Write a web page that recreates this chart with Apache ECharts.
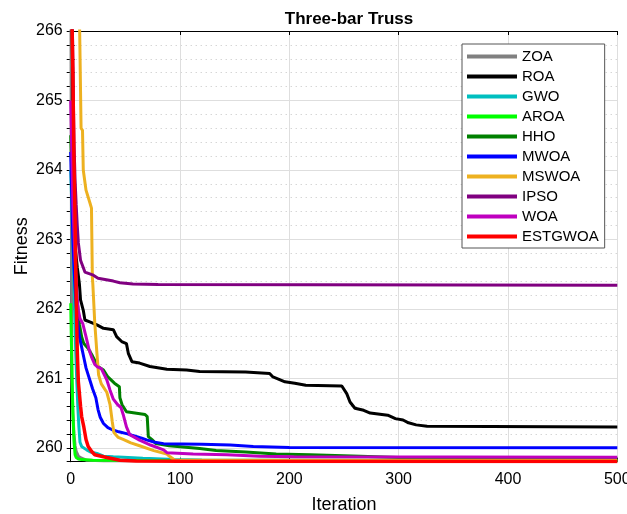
<!DOCTYPE html>
<html>
<head>
<meta charset="utf-8">
<title>Three-bar Truss</title>
<script src="https://cdn.jsdelivr.net/npm/echarts@6/dist/echarts.min.js"></script>
<style>
  html, body { margin: 0; padding: 0; background: #fff; }
  #chart { width: 627px; height: 514px; }
</style>
</head>
<body>
<div id="chart"></div>
<script>
// Convergence curves: [iteration, best fitness]
const algorithms = ['ZOA', 'ROA', 'GWO', 'AROA', 'HHO', 'MWOA', 'MSWOA', 'IPSO', 'WOA', 'ESTGWOA'];
const lineColors = ['#808080', '#000000', '#00BFBF', '#00FF00', '#008000', '#0000FF', '#EDB120', '#800080', '#BF00BF', '#FF0000'];

const zoa = [[0,268],[1,261.0],[2,260.5],[3,260.2],[4,260.03],[5,259.95],[7,259.88],[10,259.85],[15,259.82],[30,259.815],[500,259.81]];
const roa = [[0,268],[2,265],[3,263.7],[4,262.9],[6,262.6],[8,262.35],[9,262.13],[11.5,261.98],[13,261.84],[18,261.81],[24,261.77],[30,261.72],[39,261.7],[42,261.6],[46.6,261.53],[51,261.5],[52.7,261.36],[56,261.24],[63,261.22],[72.5,261.17],[88,261.13],[106,261.12],[118,261.1],[160,261.09],[182,261.07],[185,261.02],[190,260.99],[196,260.95],[205,260.93],[215,260.9],[248,260.89],[252.5,260.78],[255.5,260.66],[260,260.57],[268,260.54],[274,260.5],[290,260.47],[297,260.42],[304,260.4],[309,260.36],[316,260.33],[326,260.31],[500,260.3]];
const gwo = [[0,264],[2,263],[3,262.3],[4,261.7],[5,261.2],[5.5,260.98],[6.5,260.6],[7.5,260.3],[8.5,260.08],[10,260.02],[11.5,260],[14.6,259.97],[18,259.94],[24,259.92],[30,259.88],[39,259.87],[66,259.85],[95,259.83],[120,259.825],[500,259.82]];
const aroa = [[0,262.08],[1,261.2],[2,260.5],[3,260.1],[4,259.9],[5,259.86],[7,259.84],[10,259.83],[20,259.82],[500,259.815]];
const hho = [[0,264.5],[2,263.4],[4,262.6],[6,262.1],[8,261.78],[10,261.6],[12,261.5],[16,261.43],[20,261.32],[25,261.17],[30,261.12],[34,261.02],[40,260.93],[44.5,260.88],[45,260.72],[47,260.62],[51,260.52],[68,260.48],[70,260.45],[71,260.16],[75,260.11],[78,260.06],[90,260.03],[118,259.99],[133,259.96],[160,259.94],[188,259.91],[219,259.9],[265,259.88],[300,259.86],[350,259.845],[500,259.835]];
const mwoa = [[0,264.26],[1,263.6],[2,263],[3,262.6],[4,262.3],[5,262.05],[6,261.85],[8,261.6],[10,261.45],[12,261.3],[14,261.15],[16,261.05],[18,260.95],[20,260.85],[23,260.72],[25,260.55],[27,260.44],[30,260.35],[34,260.29],[38,260.26],[44,260.23],[52,260.2],[56,260.18],[65,260.14],[70,260.11],[77,260.08],[85,260.06],[120,260.05],[146,260.04],[167,260.02],[200,260.005],[500,260]];
const mswoa = [[0,272],[6,267],[8.2,266],[9.5,264.6],[10.8,264.57],[11.5,264],[14,263.71],[17.7,263.52],[19,263.45],[19.8,262.46],[20.3,262.34],[22,261.8],[24,261.36],[25.5,261.05],[28,260.92],[33,260.8],[36,260.62],[38,260.38],[39.5,260.22],[43.5,260.15],[48,260.12],[55,260.07],[63,260.03],[76,259.96],[88,259.91],[91,259.87],[95,259.825],[500,259.82]];
const ipso = [[0,268],[1,266.8],[2,265.5],[3,264.4],[4,263.85],[5,263.5],[6,263.2],[7,262.95],[9,262.7],[13,262.53],[20,262.49],[25,262.44],[39,262.4],[45,262.375],[57,262.357],[80,262.35],[500,262.34]];
const woa = [[0,265],[2,263.5],[4,262.7],[6,262.15],[7,261.98],[8.5,261.86],[11,261.79],[14,261.6],[17,261.4],[19,261.31],[22,261.2],[24,261.17],[28,261.14],[33,260.98],[36,260.83],[39,260.7],[43,260.62],[46,260.58],[48,260.48],[51,260.3],[54,260.19],[63,260.11],[73,260.04],[85,259.97],[88,259.93],[112,259.91],[143,259.9],[173,259.88],[204,259.87],[500,259.865]];
const estgwoa = [[0,268],[1,266.3],[2,265.4],[3,264.1],[4,263.3],[5,262.2],[6,261.4],[7,260.95],[9,260.6],[10,260.45],[12,260.3],[14,260.12],[16,260.02],[19,259.95],[22,259.9],[33,259.86],[45,259.82],[60,259.81],[100,259.805],[500,259.803]];

const curves = [zoa, roa, gwo, aroa, hho, mwoa, mswoa, ipso, woa, estgwoa];

// Axis ranges
const xRange = [0, 500];
const xStep = 100;
const yRange = [259.8, 266];
const yStep = 0.2;   // minor grid step; integers get solid lines and labels

const FONT = '"Liberation Sans", Arial, Helvetica, sans-serif';
const isInt = v => Math.abs(v - Math.round(v)) < 1e-6;

// Split-line colour cycles: ticks run 259.8, 260.0, 260.2 ... so every 5th starting at index 1 is an integer
const minorGrid = '#c4c4c4';
const majorGrid = '#dedede';
const minorCycle = [minorGrid, 'rgba(0,0,0,0)', minorGrid, minorGrid, minorGrid];
const majorCycle = ['rgba(0,0,0,0)', majorGrid, 'rgba(0,0,0,0)', 'rgba(0,0,0,0)', 'rgba(0,0,0,0)'];

const chart = echarts.init(document.getElementById('chart'), null, { renderer: 'canvas' });

const baseY = {
  type: 'value',
  min: yRange[0],
  max: yRange[1],
  interval: yStep,
  axisLine: { show: true, lineStyle: { color: '#000', width: 1 } },
  axisTick: { show: true, inside: true, length: 4, lineStyle: { color: '#000' } }
};

chart.setOption({
  animation: false,
  backgroundColor: '#fff',
  title: {
    text: 'Three-bar Truss',
    left: 344,
    top: 6,
    textAlign: 'center',
    textStyle: { fontFamily: FONT, fontSize: 17, fontWeight: 'bold', color: '#000' }
  },
  grid: { left: 70.7, right: 9.7, top: 31, bottom: 52.3, containLabel: false, outerBoundsMode: 'none' },
  legend: {
    data: algorithms,
    orient: 'vertical',
    left: 462,
    top: 44,
    padding: [5, 6, 4, 5],
    itemGap: 5,
    itemWidth: 50,
    itemHeight: 4,
    icon: 'rect',
    borderColor: '#555',
    borderWidth: 1,
    backgroundColor: '#fff',
    textStyle: { fontFamily: FONT, fontSize: 15, color: '#000' },
    selectedMode: false
  },
  xAxis: [
    {
      type: 'value',
      min: xRange[0],
      max: xRange[1],
      interval: xStep,
      name: 'Iteration',
      nameLocation: 'middle',
      nameGap: 34,
      nameMoveOverlap: false,
      nameTextStyle: { fontFamily: FONT, fontSize: 18, color: '#000' },
      axisLine: { show: true, onZero: false, lineStyle: { color: '#000', width: 1 } },
      axisTick: { show: true, inside: true, length: 4, lineStyle: { color: '#000' } },
      axisLabel: { fontFamily: FONT, fontSize: 16, color: '#000', margin: 10 },
      splitLine: { show: true, lineStyle: { color: majorGrid, width: 1 } }
    },
    {
      type: 'value',
      position: 'top',
      min: xRange[0],
      max: xRange[1],
      interval: xStep,
      axisLine: { show: true, onZero: false, lineStyle: { color: '#000', width: 1 } },
      axisTick: { show: true, inside: true, length: 4, lineStyle: { color: '#000' } },
      axisLabel: { show: false },
      splitLine: { show: false }
    }
  ],
  yAxis: [
    Object.assign({}, baseY, {
      position: 'left',
      name: 'Fitness',
      nameLocation: 'middle',
      nameGap: 40,
      nameMoveOverlap: false,
      nameTextStyle: { fontFamily: FONT, fontSize: 18, color: '#000' },
      axisLabel: {
        fontFamily: FONT, fontSize: 16, color: '#000', margin: 8,
        formatter: v => (isInt(v) ? String(Math.round(v)) : '')
      },
      splitLine: { show: true, lineStyle: { color: minorCycle, width: 1, type: [1, 4] } }
    }),
    Object.assign({}, baseY, {
      position: 'right',
      axisLabel: { show: false },
      splitLine: { show: true, lineStyle: { color: majorCycle, width: 1 } }
    })
  ],
  series: algorithms.map((name, i) => ({
    name: name,
    type: 'line',
    data: curves[i],
    xAxisIndex: 0,
    yAxisIndex: 0,
    showSymbol: false,
    symbol: 'none',
    clip: true,
    lineStyle: { color: lineColors[i], width: name === 'ESTGWOA' ? 3.5 : 3 },
    itemStyle: { color: lineColors[i] },
    emphasis: { disabled: true }
  }))
});
</script>
</body>
</html>
